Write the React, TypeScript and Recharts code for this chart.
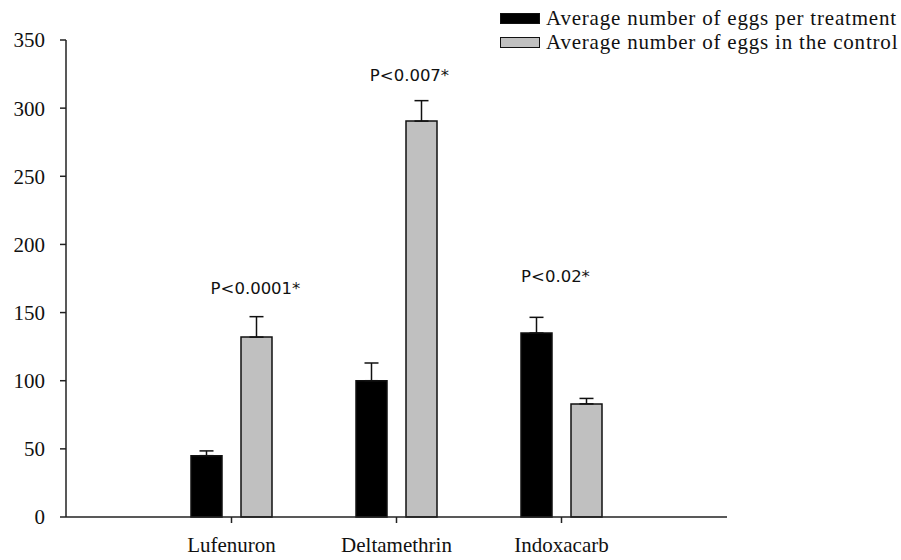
import { BarChart, Bar, XAxis, YAxis, ErrorBar, ReferenceDot } from 'recharts';

const categories = ['Lufenuron', 'Deltamethrin', 'Indoxacarb'];
const treatment = [45, 100, 135];
const treatmentErr = [3.5, 13, 11.5];
const control = [132, 290.5, 83];
const controlErr = [15, 15, 4];
const yTicks = [0, 50, 100, 150, 200, 250, 300, 350];

// p-value annotations, placed in data units above each group
const pLabels = ['P<0.0001*', 'P<0.007*', 'P<0.02*'];
const pLabelY = [168, 324, 176.5];
const pLabelShift = [24, 13, -6];

const series = [
  { key: 'treatment', name: 'Average number of eggs per treatment', fill: '#000000' },
  { key: 'control', name: 'Average number of eggs in the control', fill: '#c0c0c0' },
];

const data = categories.map((name, i) => ({
  name,
  treatment: treatment[i],
  treatmentErr: [0, treatmentErr[i]],
  control: control[i],
  controlErr: [0, controlErr[i]],
}));

const serif = '"Liberation Serif", "Times New Roman", serif';
const sans = '"DejaVu Sans", "Noto Sans", sans-serif';

export default function App() {
  return (
    <div style={{ position: 'absolute', left: 0, top: 0, width: 901, height: 560, background: '#fff' }}>
      <BarChart
        width={901}
        height={560}
        data={data}
        margin={{ top: 40, right: 174, bottom: 0, left: 0 }}
        barSize={31}
        barGap={19}
      >
        <XAxis
          dataKey='name'
          height={43}
          padding={{ left: 83, right: 83 }}
          stroke='#222'
          strokeWidth={1.5}
          tickSize={6}
          tickMargin={14}
          tick={{ fill: '#111', fontFamily: serif, fontSize: 21 }}
        />
        <YAxis
          width={66}
          domain={[0, 350]}
          ticks={yTicks}
          interval={0}
          stroke='#222'
          strokeWidth={1.5}
          tickSize={6}
          tickMargin={15}
          tick={{ fill: '#111', fontFamily: serif, fontSize: 21 }}
        />
        <Bar dataKey='treatment' fill='#000' stroke='#111' strokeWidth={1.5} isAnimationActive={false}>
          <ErrorBar dataKey='treatmentErr' width={7} stroke='#111' strokeWidth={1.5} />
        </Bar>
        <Bar dataKey='control' fill='#c0c0c0' stroke='#111' strokeWidth={1.5} isAnimationActive={false}>
          <ErrorBar dataKey='controlErr' width={7} stroke='#111' strokeWidth={1.5} />
        </Bar>
        {categories.map((c, i) => (
          <ReferenceDot
            key={c}
            x={c}
            y={pLabelY[i]}
            r={0}
            fill='none'
            stroke='none'
            label={(p: any) => {
              const vb = p.viewBox || {};
              const cx = (vb.x ?? 0) + (vb.width ?? 0) / 2 + pLabelShift[i];
              const cy = (vb.y ?? 0) + (vb.height ?? 0) / 2;
              return (
                <text x={cx} y={cy} textAnchor='middle' dominantBaseline='central' fontFamily={sans} fontSize={16.5} fill='#111'>
                  {pLabels[i]}
                </text>
              );
            }}
          />
        ))}
      </BarChart>
      <div style={{ position: 'absolute', left: 500, top: 6, fontFamily: serif, fontSize: 21, letterSpacing: 0.8, color: '#111' }}>
        {series.map((s) => (
          <div key={s.key} style={{ display: 'flex', alignItems: 'center', height: 24 }}>
            <span
              style={{
                display: 'inline-block',
                width: 38,
                height: 9,
                background: s.fill,
                border: '1px solid #111',
                marginRight: 6,
              }}
            />
            <span style={{ whiteSpace: 'nowrap' }}>{s.name}</span>
          </div>
        ))}
      </div>
    </div>
  );
}
